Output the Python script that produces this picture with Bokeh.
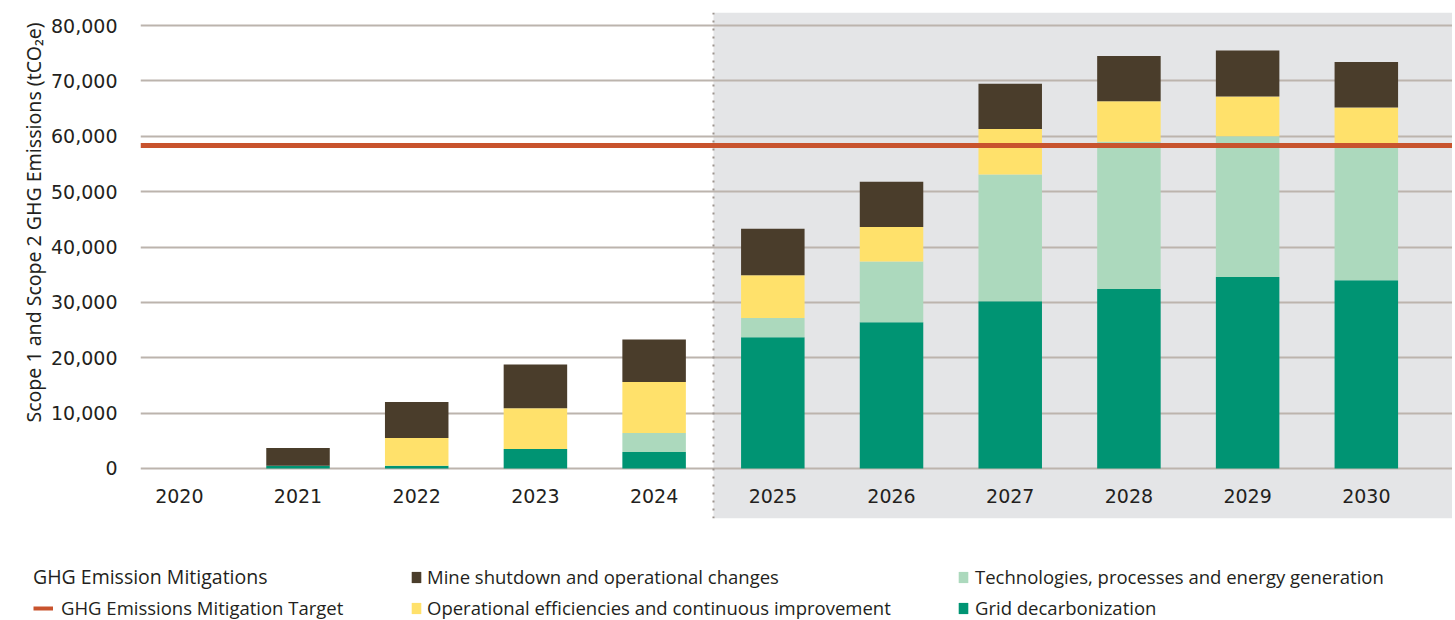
from bokeh.plotting import figure
from bokeh.models import (ColumnDataSource, BoxAnnotation, Span, FixedTicker,
                          NumeralTickFormatter, Legend, LegendItem, Range1d, Title)
from bokeh.embed import file_html
from bokeh.resources import INLINE
from bokeh.core.properties import value

# ---------------- data ----------------
years = ["2020", "2021", "2022", "2023", "2024", "2025", "2026", "2027", "2028", "2029", "2030"]
grid_decarbonization = [0, 500, 500, 3500, 3000, 23700, 26400, 30200, 32400, 34600, 34000]
technologies = [0, 0, 0, 0, 3400, 3500, 11000, 22900, 26600, 25400, 24500]
operational_efficiencies = [0, 0, 5000, 7400, 9200, 7700, 6200, 8200, 7300, 7200, 6700]
mine_shutdown = [0, 3200, 6500, 7900, 7700, 8400, 8200, 8200, 8200, 8300, 8200]
mitigation_target = 58300
y_ticks = [0, 10000, 20000, 30000, 40000, 50000, 60000, 70000, 80000]
forecast_start = 4.5  # boundary between 2024 and 2025

series_keys = ["grid", "tech", "oper", "mine"]
series_labels = ["Grid decarbonization",
                 "Technologies, processes and energy generation",
                 "Operational efficiencies and continuous improvement",
                 "Mine shutdown and operational changes"]
colors = ["#009473", "#acd9bd", "#ffe16b", "#4a3d2b"]
target_color = "#c8532d"

AFONT = "DejaVu Sans"
FONT = "Noto Sans"
LFONT = "Open Sans"
TXT = "#231f20"

src = ColumnDataSource(dict(
    x=list(range(len(years))), year=years,
    grid=grid_decarbonization, tech=technologies,
    oper=operational_efficiencies, mine=mine_shutdown,
))

# ---------------- chart ----------------
p = figure(width=1452, height=520, output_backend="svg", toolbar_location=None,
           x_range=Range1d(-0.327, 10.726), y_range=Range1d(-9030, 82350),
           min_border_left=140, min_border_top=12, min_border_bottom=2, min_border_right=0)
p.outline_line_color = None
p.background_fill_color = "white"
p.xgrid.visible = False
p.ygrid.visible = False
p.xaxis.visible = False

shade = BoxAnnotation(left=forecast_start, fill_color="#e4e5e7", fill_alpha=1.0,
                      line_color=None, level="underlay")
p.add_layout(shade)

p.hspan(y=y_ticks, line_color="#bcb4ad", line_width=2)

bars = p.vbar_stack(series_keys, x="x", width=0.535, color=colors, source=src,
                    line_width=0)

p.add_layout(Span(location=forecast_start, dimension="height", line_color="#9c948e",
                  line_dash="2 6", line_width=2))
p.hspan(y=[mitigation_target], line_color=target_color, line_width=5)

p.text(x="x", y=-5000, text="year", source=src, text_align="center",
       text_baseline="middle", text_font=value(AFONT), text_font_size="19px",
       text_color=TXT)

ax = p.yaxis[0]
ax.ticker = FixedTicker(ticks=y_ticks)
ax.formatter = NumeralTickFormatter(format="0,0")
ax.axis_line_color = None
ax.major_tick_line_color = None
ax.minor_tick_line_color = None
ax.major_label_standoff = 17
ax.major_label_text_font = AFONT
ax.major_label_text_font_size = "19px"
ax.major_label_text_color = TXT

ylab = Title(text="Scope 1 and Scope 2 GHG Emissions (tCO\u2082e)", align="left",
             offset=96, standoff=3, text_font=FONT, text_font_size="19.5px",
             text_font_style="normal", text_color=TXT)
p.add_layout(ylab, "left")

# ---------------- legend strip ----------------
lf = figure(width=1452, height=100, output_backend="svg", toolbar_location=None,
            x_range=Range1d(0, 1452), y_range=Range1d(0, 100),
            x_axis_type=None, y_axis_type=None, min_border=0)
lf.outline_line_color = None
lf.xgrid.visible = False
lf.ygrid.visible = False

nan = float("nan")
r_target = lf.line(x=[nan], y=[nan], line_color=target_color, line_width=4)
r_bars = [lf.vbar(x=[nan], top=[nan], width=1, fill_color=c, line_color=None) for c in colors]


def style_legend(lg, glyph_w, glyph_h, standoff):
    lg.glyph_width = glyph_w
    lg.glyph_height = glyph_h
    lg.label_height = 14
    lg.label_standoff = standoff
    lg.spacing = 6
    lg.padding = 0
    lg.margin = 0
    lg.border_line_color = None
    lg.background_fill_alpha = 0
    lg.label_text_font = LFONT
    lg.label_text_font_size = "18.5px"
    lg.label_text_color = TXT
    lg.label_text_baseline = "middle"


leg1 = Legend(items=[LegendItem(label="GHG Emissions Mitigation Target", renderers=[r_target])],
              location=(33, 0), title="GHG Emission Mitigations")
style_legend(leg1, 20, 14, 8)
leg1.title_text_font = LFONT
leg1.title_text_font_size = "19.5px"
leg1.title_text_font_style = "normal"
leg1.title_text_color = TXT
leg1.title_standoff = 5

leg2 = Legend(items=[LegendItem(label=series_labels[3], renderers=[r_bars[3]]),
                     LegendItem(label=series_labels[2], renderers=[r_bars[2]])],
              location=(410, 0))
style_legend(leg2, 12, 14, 5)

leg3 = Legend(items=[LegendItem(label=series_labels[1], renderers=[r_bars[1]]),
                     LegendItem(label=series_labels[0], renderers=[r_bars[0]])],
              location=(957, 0))
style_legend(leg3, 12, 14, 6)

for lg in (leg1, leg2, leg3):
    lf.add_layout(lg)

open("out.html", "w").write(file_html([p, lf], INLINE))
